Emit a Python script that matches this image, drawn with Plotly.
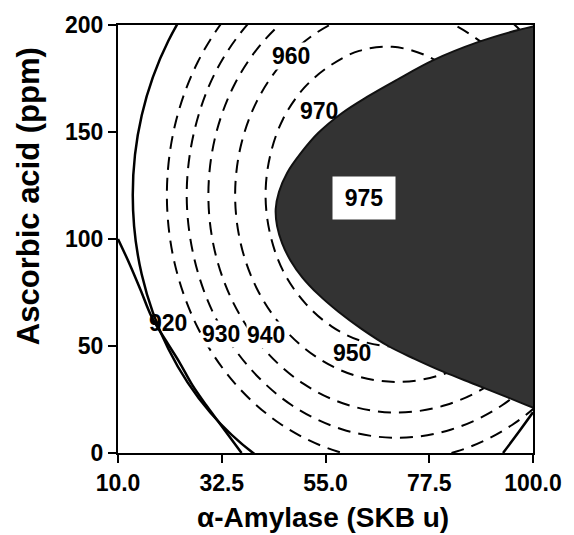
import plotly.graph_objects as go

# Response-surface contours of loaf specific volume vs. alpha-amylase and ascorbic acid.
# Each contour is given as a closed loop of (amylase, ascorbic acid) points.
c970_x = [99.0, 97.6, 94.0, 89.0, 83.2, 76.5, 69.5, 62.3, 56.0, 50.4, 45.8, 43.0, 42.0, 43.0, 45.8, 50.4, 56.3, 63.1, 70.5, 77.9, 84.8, 90.6, 95.2, 98.0]
c970_y = [120.6, 137.5, 153.0, 167.0, 177.5, 186.0, 189.8, 187.9, 181.0, 170.7, 156.1, 139.0, 120.6, 102.2, 85.1, 70.5, 59.2, 52.1, 49.7, 52.1, 59.2, 70.5, 85.1, 102.2]

c960_x = [105.6, 104.4, 100.9, 95.3, 87.5, 79.2, 70.0, 61.2, 53.0, 45.7, 40.1, 36.6, 35.4, 36.6, 40.1, 45.7, 53.0, 61.4, 70.5, 79.6, 88.1, 95.3, 100.9, 104.4]
c960_y = [120.6, 142.0, 162.0, 179.5, 194.0, 203.5, 207.0, 204.6, 196.3, 182.4, 164.3, 143.2, 120.6, 98.0, 76.9, 58.8, 44.9, 36.2, 33.2, 36.2, 44.9, 58.8, 76.9, 98.0]

c950_x = [111.4, 110.0, 105.9, 99.4, 91.0, 81.1, 70.5, 59.9, 50.1, 41.6, 35.1, 31.0, 29.6, 31.0, 35.1, 41.6, 50.1, 59.9, 70.5, 81.1, 91.0, 99.4, 105.9, 110.0]
c950_y = [120.6, 146.9, 171.5, 192.5, 208.7, 218.8, 222.3, 218.8, 208.7, 192.5, 171.5, 146.9, 120.6, 94.3, 69.8, 48.7, 32.5, 22.4, 18.9, 22.4, 32.5, 48.7, 69.8, 94.3]

c940_x = [116.1, 114.5, 110.0, 102.7, 93.3, 82.3, 70.5, 58.7, 47.7, 38.3, 31.0, 26.5, 24.9, 26.5, 31.0, 38.3, 47.7, 58.7, 70.5, 82.3, 93.3, 102.7, 110.0, 114.5]
c940_y = [120.6, 150.0, 177.4, 200.8, 218.9, 230.2, 234.1, 230.2, 218.9, 200.8, 177.4, 150.0, 120.6, 91.2, 63.9, 40.4, 22.3, 11.0, 7.1, 11.0, 22.3, 40.4, 63.9, 91.2]

c930_x = [120.4, 118.7, 113.7, 105.8, 95.45, 83.4, 70.5, 57.6, 45.55, 35.2, 27.3, 22.3, 20.6, 22.3, 27.3, 35.2, 45.55, 57.6, 70.5, 83.4, 95.45, 105.8, 113.7, 118.7]
c930_y = [120.6, 152.7, 182.7, 208.3, 228.1, 240.5, 244.7, 240.5, 228.1, 208.3, 182.7, 152.7, 120.6, 88.5, 58.55, 32.9, 13.1, 0.7, -3.5, 0.7, 13.1, 32.9, 58.55, 88.5]

c920_x = [127.8, 125.85, 120.1, 111.0, 99.15, 85.3, 70.5, 55.7, 41.85, 30.0, 20.9, 15.15, 13.2, 15.15, 20.9, 30.0, 41.85, 55.7, 70.5, 85.3, 99.15, 111.0, 120.1, 125.85]
c920_y = [120.6, 157.8, 192.5, 222.3, 245.1, 259.5, 264.4, 259.5, 245.1, 222.3, 192.5, 157.8, 120.6, 83.4, 48.7, 18.9, -3.9, -18.3, -23.2, -18.3, -3.9, 18.9, 48.7, 83.4]

# Constraint boundaries of a second response
limit_left_x = [10.0, 12.6, 14.9, 17.3, 20.3, 23.3, 26.1, 29.1, 32.3, 36.8]
limit_left_y = [100.0, 87.9, 76.2, 63.6, 52.8, 42.5, 31.8, 22.4, 13.1, 0.0]
limit_right_x = [93.5, 96.9, 100.0]
limit_right_y = [0.0, 9.8, 19.0]

# Region where the response exceeds 975 (continues outside the axes on the right)
opt_x = [100.0, 96.8, 88.2, 78.4, 70.4, 64.0, 58.6, 53.4, 49.6, 46.7, 44.9, 44.2, 44.5, 45.6, 47.4,
         50.0, 53.5, 57.8, 62.8, 68.6, 74.3, 80.5, 87.5, 94.5, 100.2, 106.0, 114.0, 114.0, 104.0]
opt_y = [199.3, 197.7, 192.1, 183.6, 174.3, 166.4, 158.9, 149.5, 140.0, 131.0, 122.0, 114.0, 106.0, 98.0, 90.0,
         82.0, 74.0, 66.0, 58.0, 50.0, 44.0, 38.0, 32.0, 26.0, 21.0, 16.0, 10.0, 210.0, 202.0]

label_text = ["920", "930", "940", "950", "960", "970"]
label_x = [20.9, 32.3, 42.1, 60.8, 47.5, 53.5]
label_y = [60.7, 55.6, 55.1, 46.7, 185.5, 159.8]
label_mask = [False, True, True, False, True, False]

opt_label = "975"
opt_label_x = 63.4
opt_label_y = 119.2

x_ticks = [10.0, 32.5, 55.0, 77.5, 100.0]
x_ticktext = ["10.0", "32.5", "55.0", "77.5", "100.0"]
y_ticks = [0, 50, 100, 150, 200]

x_title = "α-Amylase (SKB u)"
y_title = "Ascorbic acid (ppm)"

FONT = "Liberation Sans, Arial, sans-serif"

fig = go.Figure()


def closed(v):
    return v + v[:1]


for cx, cy in [(c930_x, c930_y), (c940_x, c940_y), (c950_x, c950_y), (c960_x, c960_y), (c970_x, c970_y)]:
    fig.add_trace(go.Scatter(x=closed(cx), y=closed(cy), mode="lines",
                             line=dict(color="black", width=2, dash="13px,8px", shape="spline"),
                             hoverinfo="skip", showlegend=False))

fig.add_trace(go.Scatter(x=closed(c920_x), y=closed(c920_y), mode="lines",
                         line=dict(color="black", width=2.5, shape="spline"),
                         hoverinfo="skip", showlegend=False))

for lx, ly in [(limit_left_x, limit_left_y), (limit_right_x, limit_right_y)]:
    fig.add_trace(go.Scatter(x=lx, y=ly, mode="lines",
                             line=dict(color="black", width=2.5, shape="spline"),
                             hoverinfo="skip", showlegend=False))

fig.add_trace(go.Scatter(x=closed(opt_x), y=closed(opt_y), mode="lines", fill="toself",
                         fillcolor="#333333",
                         line=dict(color="#111111", width=2, shape="spline"),
                         hoverinfo="skip", showlegend=False))

for t, x, y, m in zip(label_text, label_x, label_y, label_mask):
    fig.add_annotation(x=x, y=y, text=t, showarrow=False,
                       font=dict(family=FONT, size=23, color="black", weight="bold"),
                       bgcolor="white" if m else "rgba(0,0,0,0)", borderpad=0)

fig.add_annotation(x=opt_label_x, y=opt_label_y, text=opt_label, showarrow=False,
                   font=dict(family=FONT, size=23, color="black", weight="bold"),
                   bgcolor="white", width=60, height=40)

# Axis titles placed as annotations (paper coordinates)
fig.add_annotation(x=0.495, y=-0.15, xref="paper", yref="paper", text=x_title, showarrow=False,
                   xanchor="center", yanchor="middle",
                   font=dict(family=FONT, size=28, color="black", weight="bold"))
fig.add_annotation(x=-0.217, y=0.60, xref="paper", yref="paper", text=y_title, showarrow=False,
                   textangle=-90, xanchor="center", yanchor="middle",
                   font=dict(family=FONT, size=31, color="black", weight="bold"))

axis_common = dict(showline=True, linecolor="black", linewidth=2, mirror=True,
                   ticks="outside", ticklen=8, tickwidth=2, tickcolor="black",
                   showgrid=False, zeroline=False,
                   tickfont=dict(family=FONT, size=23, color="black", weight="bold"))

fig.update_xaxes(range=[10, 100], tickvals=x_ticks, ticktext=x_ticktext, **axis_common)
fig.update_yaxes(range=[0, 200], tickvals=y_ticks, **axis_common)

fig.update_layout(width=574, height=535, margin=dict(l=118, r=36, t=25, b=82),
                  paper_bgcolor="white", plot_bgcolor="white")

fig.write_html("out.html")
